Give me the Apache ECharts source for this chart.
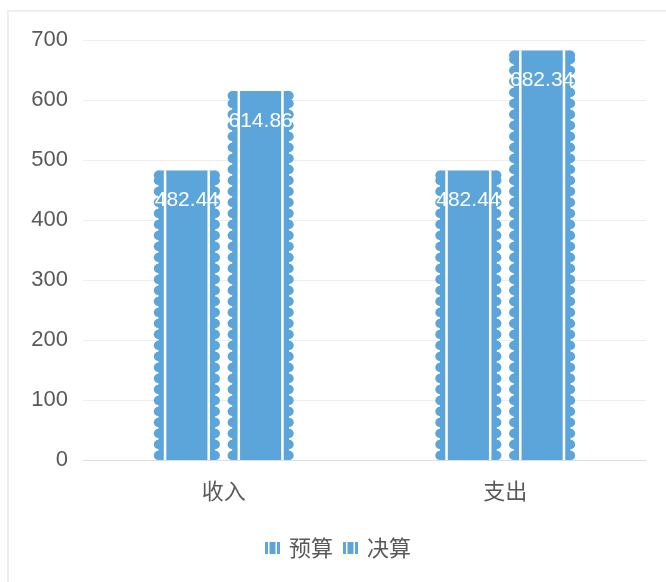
<!DOCTYPE html>
<html>
<head>
<meta charset="utf-8">
<script src="https://cdn.jsdelivr.net/npm/echarts@6/dist/echarts.min.js"></script>
<style>html,body{margin:0;padding:0;background:#fff;}#c{width:666px;height:582px;}</style>
</head>
<body>
<div id="c"></div>
<script>
const categories = ['收入', '支出'];
const seriesNames = ['预算', '决算'];
const budget = [482.44, 482.44];
const actual = [614.86, 682.34];
const yTicks = [0, 100, 200, 300, 400, 500, 600, 700];

const BLUE = '#5ba5db';
const chart = echarts.init(document.getElementById('c'));

function makeRender(sign) {
  return function (params, api) {
    const cat = api.value(0), val = api.value(1);
    const top = api.coord([cat, val]);
    const base = api.coord([cat, 0]);
    const bw = api.size([1, 0])[0];
    const cx = top[0] + sign * bw * 0.131;
    const W = bw * 0.235;
    const x0 = cx - W / 2, x1 = cx + W / 2;
    const yt = top[1], yb = base[1];
    const r = 4.6;
    const children = [];
    children.push({type: 'rect', shape: {x: x0 + r, y: yt, width: W - 2 * r, height: yb - yt}, style: {fill: BLUE}});
    let lastCy = yb;
    for (let cy = yb - r; cy - r >= yt - 1; cy -= 11) {
      children.push({type: 'circle', shape: {cx: x0 + r, cy: cy, r: r}, style: {fill: BLUE}});
      children.push({type: 'circle', shape: {cx: x1 - r, cy: cy, r: r}, style: {fill: BLUE}});
      lastCy = cy;
    }
    if (lastCy - r > yt + 2) {
      children.push({type: 'circle', shape: {cx: x0 + r, cy: yt + r, r: r}, style: {fill: BLUE}});
      children.push({type: 'circle', shape: {cx: x1 - r, cy: yt + r, r: r}, style: {fill: BLUE}});
    }
    children.push({type: 'rect', shape: {x: x0 + 10, y: yt, width: 2.5, height: yb - yt}, style: {fill: '#fff'}});
    children.push({type: 'rect', shape: {x: x1 - 12.5, y: yt, width: 2.5, height: yb - yt}, style: {fill: '#fff'}});
    children.push({type: 'text', style: {text: val.toFixed(2), x: cx, y: yt + 30, fill: '#fff', fontSize: 21, fontFamily: 'Liberation Sans, Arial, sans-serif', align: 'center', verticalAlign: 'middle'}});
    return {type: 'group', children: children};
  };
}

const legendIcon = 'path://M0 0h3v12h-3zM4.5 0h6v12h-6zM12 0h3v12h-3z';

chart.setOption({
  animation: false,
  backgroundColor: '#fff',
  graphic: [{type: 'rect', shape: {x: 8, y: 11, width: 700, height: 620}, style: {fill: 'none', stroke: '#eeeeee', lineWidth: 2}, silent: true}],
  grid: {left: 83, right: 20, top: 40, bottom: 122},
  legend: {
    bottom: 18, left: 260, itemGap: 10, itemWidth: 15, itemHeight: 12,
    icon: legendIcon,
    textStyle: {fontSize: 22, color: '#595959', fontFamily: 'Noto Sans CJK SC, sans-serif', padding: [0, 0, 0, 4]},
    data: seriesNames
  },
  xAxis: {
    type: 'category', data: categories,
    axisLine: {lineStyle: {color: '#dddddd', width: 1}},
    axisTick: {show: false},
    axisLabel: {fontSize: 22, color: '#595959', margin: 20, fontFamily: 'Noto Sans CJK SC, sans-serif'}
  },
  yAxis: {
    type: 'value', min: yTicks[0], max: yTicks[yTicks.length - 1], interval: 100,
    axisLine: {show: false}, axisTick: {show: false},
    splitLine: {lineStyle: {color: '#eeeeee'}},
    axisLabel: {fontSize: 22, color: '#595959', margin: 15, fontFamily: 'Liberation Sans, Arial, sans-serif'}
  },
  series: [
    {name: seriesNames[0], type: 'custom', renderItem: makeRender(-1), itemStyle: {color: BLUE},
     encode: {x: 0, y: 1}, data: budget.map((v, i) => [i, v])},
    {name: seriesNames[1], type: 'custom', renderItem: makeRender(1), itemStyle: {color: BLUE},
     encode: {x: 0, y: 1}, data: actual.map((v, i) => [i, v])}
  ]
});
</script>
</body>
</html>
